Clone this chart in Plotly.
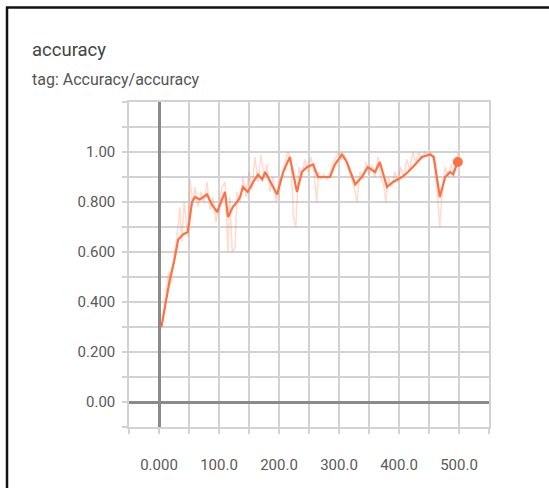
import plotly.graph_objects as go

# Raw accuracy readings per training step
raw_steps = [4, 8, 12, 16, 20, 25, 30, 35, 38, 42, 48, 52, 56, 60, 65, 70, 75, 80, 85, 90,
             95, 100, 105, 110, 115, 118, 122, 127, 130, 135, 140, 145, 150, 155, 160, 165, 170, 175, 180, 185,
             190, 195, 200, 205, 210, 215, 220, 224, 228, 233, 238, 243, 248, 253, 258, 263, 266, 270, 275, 280,
             285, 290, 295, 300, 305, 310, 315, 320, 325, 330, 335, 340, 345, 350, 355, 360, 365, 370, 375, 378,
             382, 388, 393, 398, 403, 408, 413, 418, 423, 428, 433, 438, 443, 448, 453, 458, 463, 468, 472, 477,
             482, 487, 492, 498]
raw_values = [0.30, 0.36, 0.44, 0.52, 0.47, 0.58, 0.66, 0.78, 0.64, 0.80, 0.66, 0.89, 0.79, 0.86, 0.78, 0.84, 0.80, 0.88, 0.77, 0.82,
              0.72, 0.78, 0.86, 0.88, 0.60, 0.82, 0.60, 0.62, 0.84, 0.80, 0.90, 0.82, 0.92, 0.85, 0.98, 0.88, 0.99, 0.90, 0.95, 0.84,
              0.90, 0.80, 0.88, 0.90, 0.96, 1.00, 0.97, 0.74, 0.70, 0.94, 0.90, 0.97, 0.92, 0.98, 0.93, 0.80, 0.92, 0.89, 0.91, 0.89,
              0.91, 0.96, 0.98, 1.00, 0.97, 0.99, 0.94, 0.90, 0.86, 0.80, 0.92, 0.89, 0.96, 0.91, 0.95, 0.90, 0.98, 0.90, 0.86, 0.80,
              0.90, 0.86, 0.92, 0.88, 0.94, 0.90, 0.97, 0.93, 1.00, 0.96, 1.00, 0.97, 1.00, 0.99, 1.00, 0.96, 0.86, 0.70, 0.84, 0.94,
              0.90, 0.95, 0.90, 1.00]

# Smoothed accuracy curve
smooth_steps = [4, 10, 18, 25, 32, 40, 48, 55, 60, 68, 75, 80, 88, 97, 105, 110, 115, 123, 130, 135,
                140, 148, 157, 165, 172, 177, 188, 197, 207, 218, 230, 238, 247, 257, 265, 275, 285, 293, 305, 313,
                327, 338, 348, 360, 368, 380, 390, 405, 415, 427, 438, 452, 458, 468, 477, 485, 490, 498]
smooth_values = [0.30, 0.38, 0.49, 0.56, 0.65, 0.67, 0.68, 0.80, 0.82, 0.81, 0.82, 0.83, 0.79, 0.76, 0.81, 0.84, 0.74, 0.78, 0.80, 0.82,
                 0.86, 0.84, 0.88, 0.91, 0.89, 0.92, 0.87, 0.83, 0.92, 0.98, 0.84, 0.92, 0.94, 0.95, 0.90, 0.90, 0.90, 0.95, 0.99, 0.96,
                 0.87, 0.90, 0.94, 0.92, 0.96, 0.86, 0.88, 0.90, 0.92, 0.95, 0.98, 0.99, 0.98, 0.82, 0.90, 0.92, 0.91, 0.96]

x_tickvals = [0, 100, 200, 300, 400, 500]
x_ticktext = ["0.000", "100.0", "200.0", "300.0", "400.0", "500.0"]
y_tickvals = [0, 0.2, 0.4, 0.6, 0.8, 1.0]
y_ticktext = ["0.00", "0.200", "0.400", "0.600", "0.800", "1.00"]

LINE = "#ff7043"
GRID = "#d2d2d2"
FONT = "Roboto"

fig = go.Figure()
fig.add_trace(go.Scatter(x=raw_steps, y=raw_values, mode="lines",
                         line=dict(color="rgba(255,112,67,0.25)", width=1.5),
                         hoverinfo="skip", showlegend=False))
fig.add_trace(go.Scatter(x=smooth_steps, y=smooth_values, mode="lines",
                         line=dict(color=LINE, width=2.2), showlegend=False))
fig.add_trace(go.Scatter(x=smooth_steps[-1:], y=smooth_values[-1:], mode="markers",
                         marker=dict(color=LINE, size=10), showlegend=False))

L, R, T, B = 129, 60, 102, 61
W, H = 549, 488
pw, ph = W - L - R, H - T - B


def px_x(p):
    return (p - L) / pw


def px_y(p):
    return (H - B - p) / ph


axis_common = dict(
    showgrid=True, gridcolor=GRID, gridwidth=1.5,
    ticks="outside", ticklen=5, tickcolor=GRID, tickwidth=1.5,
    tickfont=dict(family=FONT, size=15, color="#5a5a5a"),
    showline=True, mirror=True, linecolor=GRID, linewidth=1.5,
    zeroline=True, zerolinecolor="#8a8a8a", zerolinewidth=2.5,
)

fig.update_xaxes(range=[-50, 550], tickmode="array", tickvals=x_tickvals, ticktext=x_ticktext,
                 ticklabelstandoff=18,
                 minor=dict(dtick=50, tick0=0, showgrid=True, gridcolor=GRID, gridwidth=1.5,
                            ticks="outside", ticklen=5, tickcolor=GRID),
                 **axis_common)
fig.update_yaxes(range=[-0.1, 1.2], tickmode="array", tickvals=y_tickvals, ticktext=y_ticktext,
                 ticklabelstandoff=4,
                 minor=dict(dtick=0.1, tick0=0, showgrid=True, gridcolor=GRID, gridwidth=1.5,
                            ticks="outside", ticklen=5, tickcolor=GRID),
                 **axis_common)

# Card frame (top and left edges)
fig.add_shape(type="line", xref="paper", yref="paper",
              x0=px_x(6), x1=px_x(549), y0=px_y(7.5), y1=px_y(7.5),
              line=dict(color="#111", width=2.5))
fig.add_shape(type="line", xref="paper", yref="paper",
              x0=px_x(7), x1=px_x(7), y0=px_y(7), y1=px_y(488),
              line=dict(color="#111", width=2.5))

fig.add_annotation(text="accuracy", xref="paper", yref="paper",
                   x=px_x(30), y=px_y(50), xanchor="left", yanchor="middle",
                   showarrow=False, font=dict(family=FONT, size=18.5, color="#444"))
fig.add_annotation(text="tag: Accuracy/accuracy", xref="paper", yref="paper",
                   x=px_x(30), y=px_y(79), xanchor="left", yanchor="middle",
                   showarrow=False, font=dict(family=FONT, size=16, color="#555"))

fig.update_layout(width=W, height=H, margin=dict(l=L, r=R, t=T, b=B),
                  paper_bgcolor="white", plot_bgcolor="white")

fig.write_html("out.html")
